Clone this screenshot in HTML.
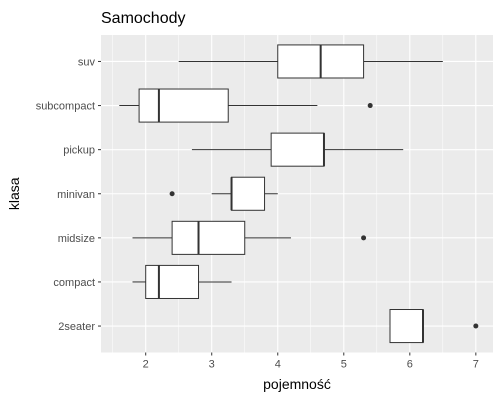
<!DOCTYPE html>
<html><head><meta charset="utf-8"><style>
body{margin:0;background:#fff;font-family:"Liberation Sans",sans-serif}
</style></head><body>
<svg id="c" width="500" height="400" xmlns="http://www.w3.org/2000/svg"></svg>
<script>
const categories=["2seater","compact","midsize","minivan","pickup","subcompact","suv"];
const lowW=[5.7,1.8,1.8,3.0,2.7,1.6,2.5];
const q1=[5.7,2.0,2.4,3.3,3.9,1.9,4.0];
const med=[6.2,2.2,2.8,3.3,4.7,2.2,4.65];
const q3=[6.2,2.8,3.5,3.8,4.7,3.25,5.3];
const highW=[6.2,3.3,4.2,4.0,5.9,4.6,6.5];
const outliers=[[7.0],[],[5.3],[2.4],[],[5.4],[]];
const xTicks=[2,3,4,5,6,7];
const L=101,R=493,T=35,B=352.5,xmin=1.323,xmax=7.26;
const X=v=>L+(v-xmin)/(xmax-xmin)*(R-L);
const step=(B-T)/(categories.length+0.2);
const Y=i=>B-step*(i+0.6);
const s=document.getElementById('c');const NS="http://www.w3.org/2000/svg";
function mk(t,a,p){const e=document.createElementNS(NS,t);for(const k in a)e.setAttribute(k,a[k]);(p||s).appendChild(e);return e;}
let e=mk('rect',{x:L,y:T,width:R-L,height:B-T,fill:'#ebebeb'});


for(let v=1.5;v<=7.1;v+=1){mk('line',{x1:X(v),x2:X(v),y1:T,y2:B,stroke:'#fff','stroke-width':0.5});}
xTicks.forEach(v=>{mk('line',{x1:X(v),x2:X(v),y1:T,y2:B,stroke:'#fff','stroke-width':1.1});
mk('line',{x1:X(v),x2:X(v),y1:B,y2:B+3,stroke:'#333'});
const t=mk('text',{x:X(v),y:B+15,'text-anchor':'middle','font-size':11,fill:'#4d4d4d'});t.textContent=v;

});
categories.forEach((c,i)=>{const y=Y(i);
mk('line',{x1:L,x2:R,y1:y,y2:y,stroke:'#fff','stroke-width':1.1});
mk('line',{x1:L-3,x2:L,y1:y,y2:y,stroke:'#333'});
const t=mk('text',{x:L-6,y:y+4,'text-anchor':'end','font-size':11,fill:'#4d4d4d'});t.textContent=c;

});
categories.forEach((c,i)=>{const y=Y(i),h=step*0.75/2;
const g=mk('g',{});


mk('line',{x1:X(lowW[i]),x2:X(q1[i]),y1:y,y2:y,stroke:'#333'},g);
mk('line',{x1:X(q3[i]),x2:X(highW[i]),y1:y,y2:y,stroke:'#333'},g);
mk('rect',{x:X(q1[i]),y:y-h,width:X(q3[i])-X(q1[i]),height:2*h,fill:'#fff',stroke:'#333'},g);
mk('line',{x1:X(med[i]),x2:X(med[i]),y1:y-h,y2:y+h,stroke:'#333','stroke-width':2},g);
outliers[i].forEach(o=>mk('circle',{cx:X(o),cy:y,r:2.5,fill:'#333'},g));});
let t=mk('text',{x:L,y:23,'font-size':16,fill:'#000'});t.textContent='Samochody';

t=mk('text',{x:(L+R)/2,y:389,'text-anchor':'middle','font-size':14,fill:'#000'});t.textContent='pojemność';

t=mk('text',{x:19,y:(T+B)/2,'text-anchor':'middle','font-size':14,fill:'#000',transform:`rotate(-90 19 ${(T+B)/2})`});t.textContent='klasa';

</script>
</body></html>
